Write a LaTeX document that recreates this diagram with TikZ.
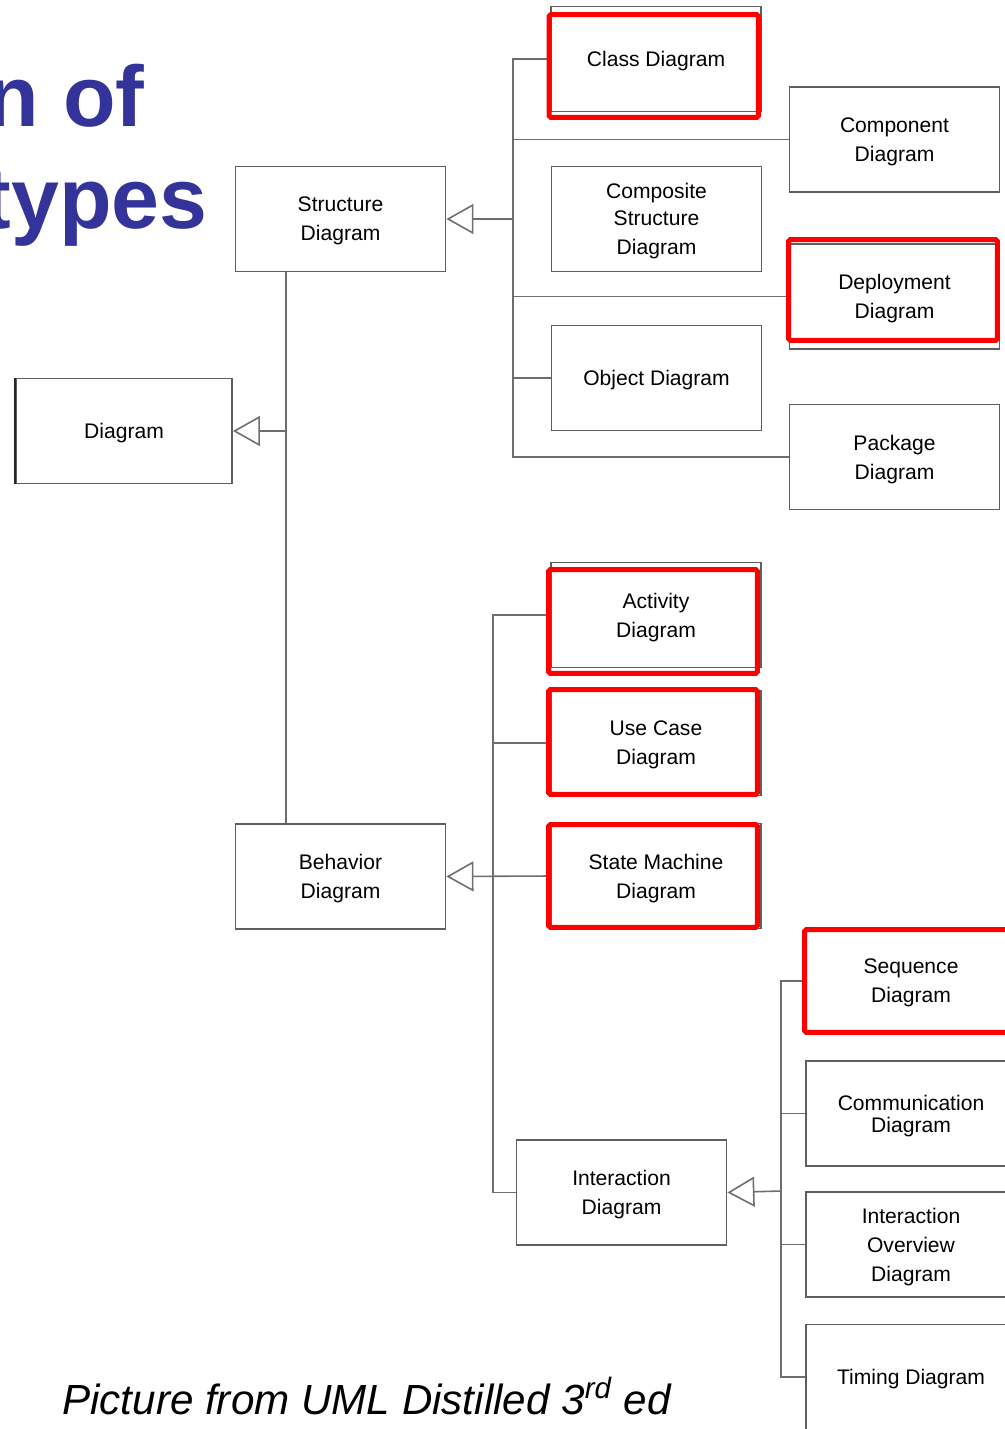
\documentclass[tikz,border=0pt]{standalone}
\usepackage{fontspec}
\setmainfont{Liberation Sans}
\usetikzlibrary{arrows.meta}

\definecolor{titleblue}{RGB}{51,51,153}
\definecolor{boxgray}{RGB}{95,95,95}
\definecolor{linegray}{RGB}{110,110,110}

\tikzstyle{diag} = [draw=boxgray, line width=1.1pt, minimum width=4.2cm, minimum height=2.1cm, inner sep=0pt, text depth=0pt, align=center, font=\fontsize{12}{16.5}\selectfont]
\tikzstyle{redbox} = [draw=red, line width=2.85pt, rounded corners=1pt]
\tikzstyle{link} = [draw=linegray, line width=0.9pt]
\tikzstyle{gen} = [link, -{Triangle[open, length=0.54cm, width=0.6cm, line width=0.9pt]}]
\tikzstyle{heading} = [text=titleblue, font=\fontsize{49}{59}\selectfont\bfseries, inner sep=0pt, anchor=base east]
\tikzstyle{source} = [font=\fontsize{24}{29}\selectfont\itshape, inner sep=0pt, anchor=base west]

\begin{document}
\begin{tikzpicture}[x=0.02cm, y=-0.02cm]
\useasboundingbox (0,0) rectangle (1004,1429);
%titel
\node[heading] (ttlA) at (145,127) {n of};
\node[heading] (ttlB) at (208,229) {types};
%begin top
\node[diag, minimum width=4.32cm] (dgm) at (124,431) {Diagram};
\node[diag] (struct) at (340.5,219) {Structure\\Diagram};
\node[diag] (behav) at (340.5,876.5) {Behavior\\Diagram};
%end top
%begin structure
\node[diag] (cls) at (656,59) {Class Diagram};
\node[diag] (cmp) at (894.5,139.5) {Component\\Diagram};
\node[diag] (csd) at (656.5,219) {Composite\\[-1.5pt]Structure\\Diagram};
\node[diag] (dep) at (894.5,296.5) {Deployment\\Diagram};
\node[diag] (obj) at (656.5,378) {Object Diagram};
\node[diag] (pkg) at (894.5,457) {Package\\Diagram};
%end structure
%begin behavior
\node[diag] (act) at (656,615) {Activity\\Diagram};
\node[diag] (uc) at (656,743) {Use Case\\Diagram};
\node[diag] (sm) at (656,876) {State Machine\\Diagram};
\node[diag] (intr) at (621.5,1192.5) {Interaction\\Diagram};
%end behavior
%begin interaction
\node[diag] (seq) at (911,981) {Sequence\\Diagram};
\node[diag] (com) at (911,1113.5) {Communication\\[-4pt]Diagram};
\node[diag] (iov) at (911,1244.5) {Interaction\\Overview\\Diagram};
\node[diag] (tim) at (911,1377) {Timing Diagram};
%end interaction
\draw[line width=1.5pt, black!85] (dgm.north west) -- (dgm.south west);
%verbindingen
\coordinate (dj) at (286,431);
\coordinate (sj) at (513,219);
\coordinate (bj) at (493,876);
\coordinate (ij) at (781,1191);
\draw[link] (struct.south -| dj) -- (behav.north -| dj);
\draw[gen] (dj) -- (dgm.east);
\draw[link] (cls.west) -| (sj) |- (pkg.west);
\draw[link] (sj |- cmp.west) -- (cmp.west);
\draw[link] (sj |- dep.west) -- (dep.west);
\draw[link] (sj |- obj.west) -- (obj.west);
\draw[gen] (sj) -- (struct.east);
\draw[link] (act.west) -| (bj) |- (intr.west);
\draw[link] (bj |- uc.west) -- (uc.west);
\draw[gen] (sm.west) -- (behav.east);
\draw[link] (seq.west) -| (ij) |- (tim.west);
\draw[link] (ij |- com.west) -- (com.west);
\draw[link] (ij |- iov.west) -- (iov.west);
\draw[gen] (ij) -- (intr.east);
%rode kaders
\draw[redbox] ([shift={(-1,9)}]cls.north west) rectangle ([shift={(-3.5,5)}]cls.south east);
\draw[redbox] ([shift={(0,-3.5)}]dep.north west) rectangle ([shift={(-3,-9.5)}]dep.south east);
\draw[redbox] ([shift={(-1.5,8)}]act.north west) rectangle ([shift={(-4.5,5)}]act.south east);
\draw[redbox] ([shift={(-1.5,0)}]uc.north west) rectangle ([shift={(-4.5,-2)}]uc.south east);
\draw[redbox] ([shift={(-1.5,2)}]sm.north west) rectangle ([shift={(-4.5,-2)}]sm.south east);
\draw[redbox] ([shift={(-0.5,2)}]seq.north west) rectangle ([shift={(0,-2)}]seq.south east);
%bron
\node[source] (src) at (62,1414) {Picture from UML Distilled 3\textsuperscript{rd} ed};
\end{tikzpicture}
\end{document}
